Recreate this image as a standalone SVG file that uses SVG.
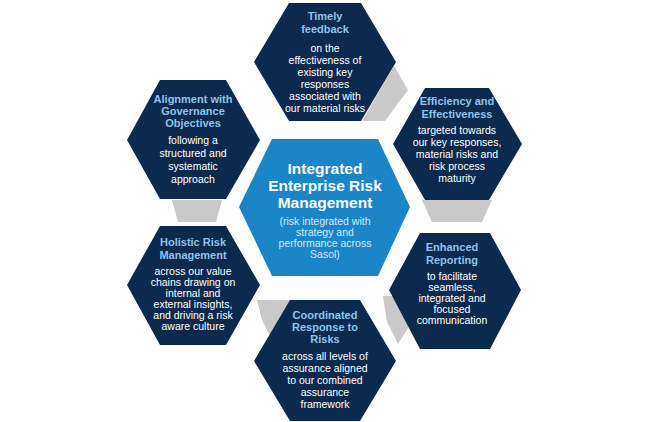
<svg xmlns="http://www.w3.org/2000/svg" width="646" height="422" viewBox="0 0 646 422">
<style>
.hex{fill:#0c2a4e}
.ctr{fill:#1a86c7}
.gap{fill:#c9c9c9}
text{font-family:"Liberation Sans",Arial,sans-serif;text-anchor:middle}
.t{font-size:11px;font-weight:bold;fill:#8ec3ec}
.b{font-size:10.5px;fill:#ffffff}
.ct{font-size:15.5px;font-weight:bold;fill:#ffffff}
.cb{font-size:10.5px;fill:#d4e9f8}
</style>
<rect width="646" height="422" fill="#ffffff"/>
<g id="connectors">
<polygon class="gap" points="394,66 408,90 385,121 362,121"/>
<polygon class="gap" points="422,200 492,200 482,222 432,222"/>
<polygon class="gap" points="383,296 398,296 412,322 398,344 387,322"/>
<polygon class="gap" points="257,300 292,300 272,340 262,320"/>
<polygon class="gap" points="172,200 222,200 216,222 178,222"/>
</g>
<g id="top">
<polygon class="hex" points="254,62 289,3 361,3 396,62 361,121 289,121"/>
<text class="t" x="325" y="20">Timely</text>
<text class="t" x="325" y="33">feedback</text>
<text class="b" x="325" y="52">on the</text>
<text class="b" x="325" y="64">effectiveness of</text>
<text class="b" x="325" y="76">existing key</text>
<text class="b" x="325" y="88">responses</text>
<text class="b" x="325" y="100">associated with</text>
<text class="b" x="325" y="112">our material risks</text>
</g>
<g id="upper-right">
<polygon class="hex" points="393,144 425,88 489,88 522,144 489,200 425,200"/>
<text class="t" x="457" y="105">Efficiency and</text>
<text class="t" x="457" y="118">Effectiveness</text>
<text class="b" x="457" y="134">targeted towards</text>
<text class="b" x="457" y="146">our key responses,</text>
<text class="b" x="457" y="158">material risks and</text>
<text class="b" x="457" y="170">risk process</text>
<text class="b" x="457" y="182">maturity</text>
</g>
<g id="lower-right">
<polygon class="hex" points="389,290 420,233 490,233 521,290 490,349 420,349"/>
<text class="t" x="452" y="251">Enhanced</text>
<text class="t" x="452" y="264">Reporting</text>
<text class="b" x="452" y="280">to facilitate</text>
<text class="b" x="452" y="291">seamless,</text>
<text class="b" x="452" y="302">integrated and</text>
<text class="b" x="452" y="313">focused</text>
<text class="b" x="452" y="324">communication</text>
</g>
<g id="bottom">
<polygon class="hex" points="254,361 290,300 360,300 396,361 360,421 290,421"/>
<text class="t" x="325" y="319">Coordinated</text>
<text class="t" x="325" y="331">Response to</text>
<text class="t" x="325" y="343">Risks</text>
<text class="b" x="325" y="360">across all levels of</text>
<text class="b" x="325" y="372">assurance aligned</text>
<text class="b" x="325" y="384">to our combined</text>
<text class="b" x="325" y="396">assurance</text>
<text class="b" x="325" y="408">framework</text>
</g>
<g id="lower-left">
<polygon class="hex" points="127,285 160,226 226,226 260,285 226,345 160,345"/>
<text class="t" x="193" y="246">Holistic Risk</text>
<text class="t" x="193" y="259">Management</text>
<text class="b" x="193" y="275">across our value</text>
<text class="b" x="193" y="286">chains drawing on</text>
<text class="b" x="193" y="297">internal and</text>
<text class="b" x="193" y="308">external insights,</text>
<text class="b" x="193" y="319">and driving a risk</text>
<text class="b" x="193" y="330">aware culture</text>
</g>
<g id="upper-left">
<polygon class="hex" points="127,140 160,80 226,80 260,140 226,199 160,199"/>
<text class="t" x="193" y="103">Alignment with</text>
<text class="t" x="193" y="115">Governance</text>
<text class="t" x="193" y="127">Objectives</text>
<text class="b" x="193" y="144">following a</text>
<text class="b" x="193" y="157">structured and</text>
<text class="b" x="193" y="170">systematic</text>
<text class="b" x="193" y="183">approach</text>
</g>
<g id="center">
<polygon class="ctr" points="239,207 272,139 378,139 410,207 378,276 272,276"/>
<text class="ct" x="325" y="174">Integrated</text>
<text class="ct" x="325" y="191">Enterprise Risk</text>
<text class="ct" x="325" y="208">Management</text>
<text class="cb" x="325" y="225">(risk integrated with</text>
<text class="cb" x="325" y="236">strategy and</text>
<text class="cb" x="325" y="247">performance across</text>
<text class="cb" x="325" y="258">Sasol)</text>
</g>
</svg>
